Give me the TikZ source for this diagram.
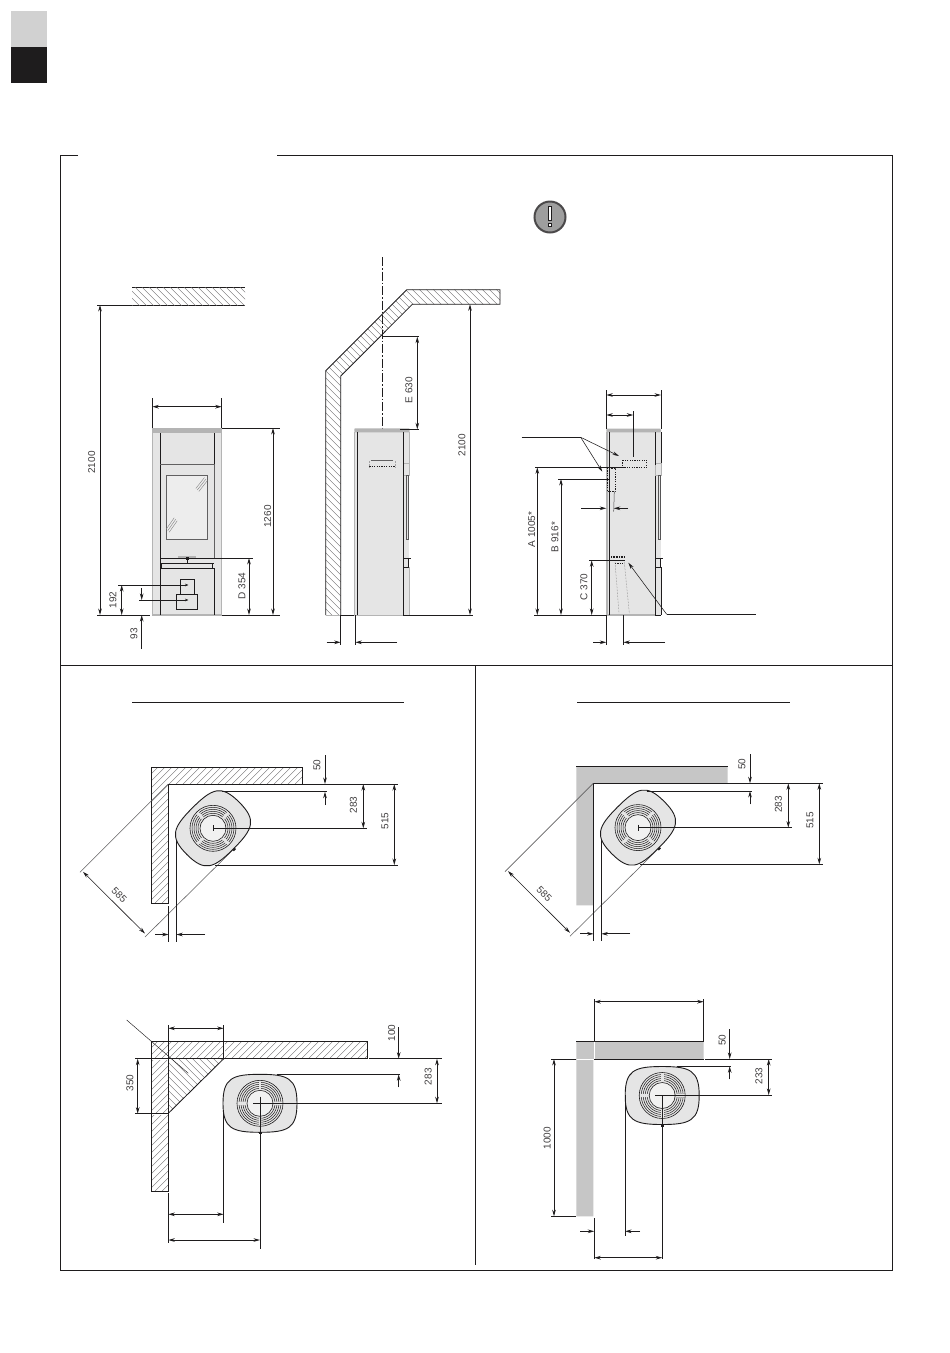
\documentclass[tikz,border=0pt]{standalone}
\usepackage{fontspec}
\setmainfont{Liberation Sans}
\usetikzlibrary{arrows.meta}
\definecolor{stovefill}{HTML}{E5E5E5}
\definecolor{wallfill}{HTML}{C6C6C6}
\definecolor{slabgray}{HTML}{B4B4B4}
\definecolor{inkc}{HTML}{1E1C1D}
\tikzset{
  ink/.style={draw=inkc,line width=.85pt},
  thick ink/.style={draw=inkc,line width=1.3pt},
  extline/.style={draw=inkc,line width=.85pt},
  dimar/.style={draw=inkc,line width=.85pt,{Stealth[length=6.5pt,width=3.6pt]}-{Stealth[length=6.5pt,width=3.6pt]}},
  endar/.style={draw=inkc,line width=.85pt,-{Stealth[length=6.5pt,width=3.6pt]}},
  endsm/.style={draw=inkc,line width=.85pt,-{Stealth[length=3.5pt,width=2.6pt]}},
  leaderl/.style={draw=inkc,line width=.55pt,-{Stealth[length=6.5pt,width=3.4pt]}},
  hatchl/.style={draw=inkc!65,line width=.35pt},
  dotl/.style={draw=inkc,line width=.8pt,dash pattern=on 1.2pt off 1.2pt},
  dimtxt/.style={font=\fontsize{10}{11}\selectfont,text=inkc!85,inner sep=0pt},
  vtxt/.style={dimtxt,rotate=90},
  dtxt/.style={dimtxt,rotate=-45}
}
\newcommand\hatchrise[4]{\begin{scope}\clip #1;\foreach \k in {#2,#3,...,#4}{\draw[hatchl] (\k,0)--({\k-1400},1400);}\end{scope}}
\newcommand\hatchfall[4]{\begin{scope}\clip #1;\foreach \k in {#2,#3,...,#4}{\draw[hatchl] ({\k+0},0)--({\k+1400},1400);}\end{scope}}
\newcommand\planstove[3]{\begin{scope}[shift={(#1,#2)},rotate=#3]
  \fill[inkc] (-1.5,28) rectangle (1.5,31);
  \draw[fill=stovefill,line width=.9pt,draw=inkc] (-37,0) .. controls (-37,-25) and (-28,-29) .. (0,-29)
     .. controls (28,-29) and (37,-25) .. (37,0) .. controls (37,25) and (28,29) .. (0,29)
     .. controls (-28,29) and (-37,25) .. (-37,0) -- cycle;
  \foreach \r in {15,17,19,21}{\draw[draw=inkc,line width=.5pt] (0,0) circle[radius=\r];}
  \foreach \a in {0,90,180,270}{\begin{scope}[rotate=\a]\fill[stovefill] (-1.4,-14.2) rectangle (1.4,-21.8);\end{scope}}
  \draw[draw=inkc,line width=.6pt] (0,0) circle[radius=23];
  \draw[draw=inkc,line width=.6pt,fill=stovefill!55] (0,0) circle[radius=13];
\end{scope}}
\newcommand\sidefront[1]{\begin{scope}[shift={(#1,0)}]
  \fill[stovefill] (0,432) rectangle (6,615);
  \draw[draw=slabgray,line width=.8pt] (6,432)--(6,463);
  \draw[draw=slabgray,line width=.8pt] (0,463) rectangle (6,475);
  \draw[draw=inkc!75,line width=.6pt] (3,475.5) rectangle (5,539);
  \draw[draw=inkc,line width=.7pt] (0,558)--(8,558) (0,558) rectangle (5,567);
  \draw[ink] (0,567)--(6.4,567);
  \draw[draw=slabgray,line width=.8pt] (6.4,567)--(6.4,615);
  \draw[ink] (0,615)--(6.4,615);
\end{scope}}
\begin{document}
\begin{tikzpicture}[x=1pt,y=-1pt]
\useasboundingbox (0,0) rectangle (950,1353);
\fill[white] (0,0) rectangle (950,1353);
\fill[black!18] (11,11) rectangle (47,47);
\fill[inkc] (11,47) rectangle (47,83);
\draw[ink] (78,155)--(60,155)--(60,1270)--(892,1270)--(892,155)--(277,155);
\draw[ink] (60,665)--(892,665);
\draw[ink] (475.5,665)--(475.5,1265);
\draw[ink] (132,702.5)--(404,702.5);
\draw[ink] (577,702.5)--(790,702.5);
\node[circle,minimum size=31pt,inner sep=0pt,line width=2pt,draw=inkc!80,fill=black!38] (warnsign) at (550,217) {};
\fill[white,draw=inkc,line width=.7pt] (548.4,206) rectangle (551.6,220.5);
\fill[white,draw=inkc,line width=.7pt] (548.4,223) rectangle (551.6,226);

%% front view
\draw[ink] (132,287.5)--(245,287.5) (132,305)--(245,305);
\hatchfall{(132,287.5) rectangle (245,305)}{-180}{-173}{-30}
\fill[stovefill] (152.3,428) rectangle (221.7,615);
\fill[slabgray] (152.3,428) rectangle (221.7,433);
\fill[slabgray] (152.3,613.8) rectangle (221.7,615.6);
\draw[draw=slabgray,line width=.6pt] (152.5,428)--(152.5,615) (221.5,428)--(221.5,615);
\draw[ink] (160.3,433)--(160.3,615);
\draw[thick ink] (214.3,433)--(214.3,464);
\draw[draw=inkc!70,line width=.7pt] (214.3,464)--(214.3,558);
\draw[thick ink] (214.3,568)--(214.3,615);
\draw[draw=inkc!70,line width=.8pt] (160.3,464.3)--(214.3,464.3);
\draw[draw=inkc!70,line width=.85pt,fill=stovefill!70] (166,475.7) rectangle (207.7,539.3);
\foreach \d in {-1.5,0,1.5}{
  \draw[draw=inkc!55,line width=.4pt] ({197.3+\d},{490+\d})--({206+\d},{479+\d});
  \draw[draw=inkc!55,line width=.4pt] ({167.7+\d},{530.7+\d})--({175.7+\d},{519.3+\d});}
\draw[draw=slabgray,line width=1.6pt] (178,557)--(196,557);
\draw[thick ink] (160.3,558.2)--(214.3,558.2);
\fill[inkc] (185.5,557) rectangle (188.5,559.5);
\draw[draw=inkc,line width=.6pt] (187,559)--(187,563);
\draw[draw=inkc,line width=.7pt] (160.3,563)--(214.3,563) (161.7,563)--(161.7,568) (212.3,563)--(212.3,568) (160.3,568)--(214.3,568);
\draw[ink] (180.3,594)--(180.3,579.3)--(194.7,579.3)--(194.7,594);
\draw[ink] (176.3,594) rectangle (197.7,609.3);
\draw[extline] (97,305)--(132,305) (97,615)--(150,615);
\draw[dimar] (100,305)--(100,615);
\node[vtxt] (fr2100) at (91.7,462.5) {2100};
\draw[extline] (152.3,398)--(152.3,428) (221.7,398)--(221.7,428);
\draw[dimar] (152.3,406.7)--(221.7,406.7);
\draw[extline] (222,428)--(280,428) (222,615)--(280,615);
\draw[dimar] (273,428)--(273,615);
\node[vtxt] (fr1260) at (267.7,516.5) {1260};
\draw[extline] (214.3,558)--(253,558);
\draw[dimar] (249,558)--(249,615);
\node[vtxt] (frD) at (242,586) {D 354};
\draw[endsm] (118,585)--(188.5,585);
\draw[dimar] (121.7,585)--(121.7,615);
\node[vtxt] (fr192) at (113,600) {192};
\draw[endsm] (139,600)--(188.5,600);
\draw[endar] (141.7,588)--(141.7,600);
\draw[endar] (141.7,649)--(141.7,615);
\node[vtxt] (fr93) at (134,633.5) {93};

%% side view, chimney corner
\def\wallB{(325.7,615)--(325.7,370.7)--(406.7,289.7)--(500,289.7)--(500,304.3)--(412.3,304.3)--(340.7,376)--(340.7,615)--cycle}
\hatchfall{\wallB}{-290}{-283}{215}
\draw[ink] (340.7,615)--(340.7,376)--(412.3,304.3)--(500,304.3)--(500,289.7)--(406.7,289.7)--(325.7,370.7)--(325.7,615);
\draw[draw=slabgray,line width=1pt] (325.7,615)--(340.7,615);
\draw[dash pattern=on 9pt off 2pt on 1.5pt off 2pt,draw=inkc,line width=.6pt] (382.3,257)--(382.3,460.7);
\fill[stovefill] (354.3,432) rectangle (403.3,615);
\sidefront{403.3}
\fill[slabgray,rounded corners=.8pt] (354.3,428.3) rectangle (409.7,432.3);
\draw[draw=slabgray,line width=1.2pt] (354.8,432)--(354.8,615);
\draw[draw=slabgray,line width=1pt] (354.3,615)--(403.3,615);
\draw[ink] (357.7,432.3)--(357.7,615) (403.3,432.3)--(403.3,615);
\draw[draw=inkc!70,line width=.6pt] (370.7,460.7)--(393.3,460.7);
\draw[dotl] (369.3,466.7)--(394.7,466.7);
\draw[draw=inkc!40,line width=.4pt,densely dotted] (369.3,461)--(369.3,466.7) (394.7,461)--(394.7,466.7);
\draw[extline] (382.3,336.7)--(419.3,336.7) (400,429.3)--(419.3,429.3);
\draw[dimar] (417.3,336.7)--(417.3,429.3);
\node[vtxt] (sdE) at (409,390) {E 630};
\draw[dimar] (470,304.3)--(470,615);
\draw[extline] (410,615)--(473,615);
\node[vtxt] (sd2100) at (462,445) {2100};
\draw[extline] (340.7,615)--(354.3,615) (340.7,615)--(340.7,645) (355.3,615)--(355.3,645);
\draw[endar] (326.7,642.3)--(340.7,642.3);
\draw[endar] (397,642.3)--(355.3,642.3);

%% side view, connections
\fill[stovefill] (606.3,432) rectangle (655,615);
\sidefront{655}
\fill[slabgray,rounded corners=.8pt] (606.3,428.7) rectangle (661,432.3);
\draw[draw=slabgray,line width=1.2pt] (607,432)--(607,615);
\draw[draw=slabgray,line width=1.2pt] (606.3,615)--(655,615);
\draw[ink] (609.7,432.3)--(609.7,615) (655,432.3)--(655,465);
\draw[draw=inkc,line width=.85pt] (655,476)--(655,615);
\draw[ink] (661,432.3)--(661,463) (661,567)--(661,615);
\draw[dotl] (622,460) rectangle (646.7,467.3);
\draw[dotl] (607.2,468) rectangle (615,491.7);
\draw[draw=inkc!80,line width=.5pt] (614.3,491.7)--(613.7,511.7);
\draw[draw=inkc,line width=1.6pt,dash pattern=on .8pt off .8pt] (611,557)--(624,557);
\draw[dotl] (615,563.2)--(624.3,563.2);
\draw[draw=inkc!60,line width=.5pt,densely dotted] (615,562)--(619,613) (624.3,562)--(629.3,613);
\draw[extline] (606.3,390)--(606.3,428.7) (661,390)--(661,428.7);
\draw[dimar] (606.3,395)--(661,395);
\draw[dimar] (606.3,415)--(633.3,415);
\draw[extline] (633.3,411)--(633.3,456.7);
\draw[extline] (535,467.3)--(624,467.3);
\draw[dimar] (537.3,467.3)--(537.3,615);
\node[vtxt] (cnA) at (531.7,529.5) {A 1005*};
\draw[extline] (558,479)--(610,479);
\draw[dimar] (561,479)--(561,615);
\node[vtxt] (cnB) at (555,537) {B 916*};
\draw[extline] (589,560.3)--(625,560.3);
\draw[dimar] (591.7,560.3)--(591.7,615);
\node[vtxt] (cnC) at (584,587) {C 370};
\draw[extline] (534,615)--(606.3,615);
\draw[endar] (581,508.3)--(606.3,508.3);
\draw[endar] (628,508.3)--(613.7,508.3);
\draw[extline] (606.3,615)--(606.3,645) (623.3,615)--(623.3,645);
\draw[endar] (593,642.3)--(606.3,642.3);
\draw[endar] (665,642.3)--(623.3,642.3);
\coordinate (bendA) at (580.7,437.3);
\coordinate (bendB) at (666.7,614.3);
\draw[draw=inkc,line width=.55pt] (521.7,437.3)--(bendA);
\draw[leaderl] (bendA)--(619,456);
\draw[leaderl] (bendA)--(602.3,471.7);
\draw[draw=inkc,line width=.55pt] (755.7,614.3)--(bendB);
\draw[leaderl] (bendB)--(628.3,562.7);

%% plan, 45 degrees, hatched wall
\def\wallD{(151.7,767.3)--(302.3,767.3)--(302.3,784)--(168.3,784)--(168.3,903.7)--(151.7,903.7)--cycle}
\hatchrise{\wallD}{918}{925}{1092}
\draw[ink] \wallD;
%% plan, 45 degrees, plain wall
\fill[wallfill] (576.3,766.3)--(727.7,766.3)--(727.7,783.3)--(593.3,783.3)--(593.3,905.3)--(576.3,905.3)--cycle;
\draw[ink] (576.3,766.3)--(727.7,766.3) (593.3,783.3)--(593.3,905.3);
\foreach \ox/\oy/\nm in {0/0/a,425/-0.7/b}{
\begin{scope}[shift={(\ox,\oy)}]
  \draw[ink] (168.3,784)--(398,784);
  \draw[draw=inkc!70,line width=.55pt] (168.3,784)--(80,872.3);
  \draw[draw=inkc!70,line width=.55pt] (233.8,849)--(145,937);
  \draw[ink] (176.3,840)--(176.3,941.7);
  \draw[extline] (168.6,906)--(168.6,941.7);
  \planstove{213}{828.3}{45}
  \draw[draw=inkc,line width=.5pt] (213,825.3)--(213,831.3);
  \draw[extline] (213,828.3)--(366.7,828.3) (215,865)--(398,865) (221.7,791.7)--(327,791.7);
  \draw[endar] (325,755)--(325,784);
  \draw[endar] (325,805)--(325,791.7);
  \draw[dimar] (363.3,784)--(363.3,828.3);
  \draw[dimar] (394.3,784)--(394.3,865);
  \draw[dimar,line width=.6pt] (83,871.8)--(145,933.5);
  \draw[endar] (155,934.5)--(168.6,934.5);
  \draw[endar] (205,934.5)--(176.3,934.5);
  \node[vtxt] (pl50\nm) at (317,765) {50};
  \node[vtxt] (pl283\nm) at (353.5,805) {283};
  \node[vtxt] (pl515\nm) at (385,821) {515};
  \node[dtxt] (pl585\nm) at (119.3,895) {585};
\end{scope}}

%% plan, square, hatched wall and corner
\def\wallF{(151.3,1041.7)--(367.7,1041.7)--(367.7,1058.7)--(168.3,1058.7)--(168.3,1191.7)--(151.3,1191.7)--cycle}
\hatchrise{\wallF}{1192}{1199}{1430}
\hatchfall{(168.3,1058.7)--(223.7,1058.7)--(168.3,1113.3)--cycle}{-950}{-943}{-830}
\draw[ink] \wallF;
\draw[ink] (223.7,1058.7)--(168.3,1113.3);
\draw[white,line width=1.6pt] (168.3,1042)--(168.3,1058) (223.7,1042)--(223.7,1058) (152,1058.7)--(168,1058.7) (152,1113.7)--(168,1113.7);
\draw[extline] (168.3,1025)--(168.3,1058.7) (223.7,1025)--(223.7,1058.7);
\draw[dimar] (168.3,1028.3)--(223.7,1028.3);
\draw[draw=inkc,line width=.45pt] (126.7,1020)--(188.3,1073.3);
\draw[extline] (135,1058.7)--(168.3,1058.7) (135,1113.7)--(168.3,1113.7);
\draw[dimar] (137.7,1058.7)--(137.7,1113.7);
\node[vtxt] (pf350) at (130,1083) {350};
\planstove{260}{1103.3}{0}
\draw[ink] (369.3,1058.7)--(441.7,1058.7);
\draw[extline] (276.7,1074.3)--(400,1074.3) (253.3,1103.3)--(441.7,1103.3);
\draw[endar] (398.7,1027)--(398.7,1058.7);
\draw[endar] (398.7,1087.3)--(398.7,1074.3);
\node[vtxt] (pf100) at (391.7,1033) {100};
\draw[dimar] (437,1058.7)--(437,1103.3);
\node[vtxt] (pf283) at (428.3,1076.7) {283};
\draw[extline] (168.3,1193)--(168.3,1242.7) (223.7,1110)--(223.7,1223.3) (260,1096.7)--(260,1249.3);
\draw[dimar] (168.3,1214.3)--(223.7,1214.3);
\draw[dimar] (168.3,1240)--(260,1240);

%% plan, square, plain wall
\fill[wallfill] (576.3,1041)--(703.7,1041)--(703.7,1059)--(593.3,1059)--(593.3,1216.3)--(576.3,1216.3)--cycle;
\draw[ink] (576.3,1041)--(703.7,1041) (594,1059)--(703.7,1059);
\draw[white,line width=.7pt] (594.2,1041.5)--(594.2,1058.5) (577,1059)--(593.5,1059);
\draw[extline] (594.3,999.3)--(594.3,1041) (703.7,999.3)--(703.7,1041);
\draw[dimar] (594.3,1001.7)--(703.7,1001.7);
\draw[extline] (551,1059)--(576.3,1059) (551,1216.3)--(576.3,1216.3);
\draw[dimar] (554,1059)--(554,1216.3);
\node[vtxt] (pg1000) at (547.3,1138.3) {1000};
\planstove{662.2}{1095.5}{0}
\draw[ink] (705,1059)--(771.7,1059);
\draw[extline] (676.7,1066.3)--(731,1066.3) (655,1095)--(771.7,1095);
\draw[endar] (729.7,1029.3)--(729.7,1059);
\draw[endar] (729.7,1079.3)--(729.7,1066.3);
\node[vtxt] (pg50) at (722.3,1040) {50};
\draw[dimar] (768.7,1059)--(768.7,1095);
\node[vtxt] (pg233) at (759,1076) {233};
\draw[extline] (594.3,1218)--(594.3,1259.3) (625,1095)--(625,1236) (662.3,1095)--(662.3,1259.3);
\draw[endar] (580,1231.3)--(594.3,1231.3);
\draw[endar] (640,1231.3)--(625,1231.3);
\draw[dimar] (594.3,1257.7)--(662.3,1257.7);
\end{tikzpicture}
\end{document}
